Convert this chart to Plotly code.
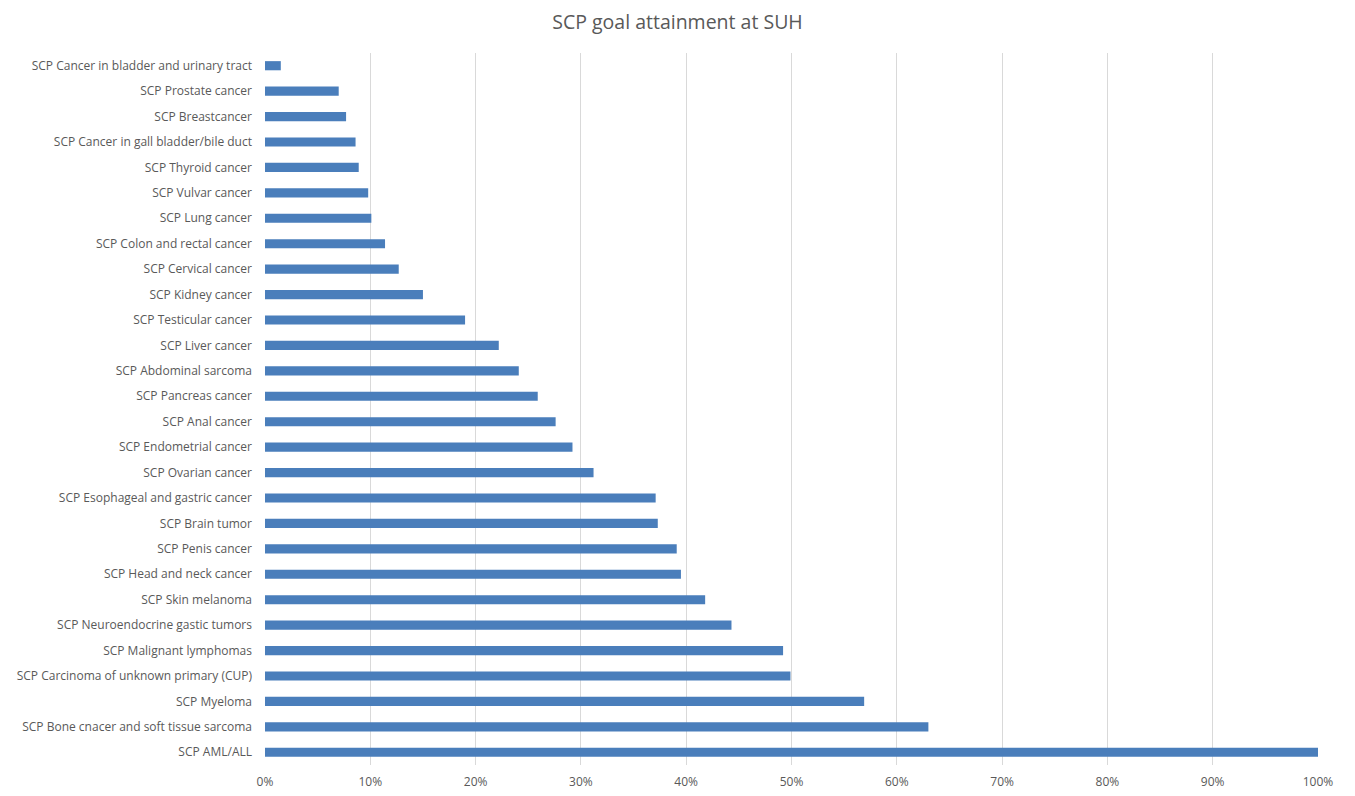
import plotly.graph_objects as go

categories = [
    "SCP Cancer in bladder and urinary tract",
    "SCP Prostate cancer",
    "SCP Breastcancer",
    "SCP Cancer in gall bladder/bile duct",
    "SCP Thyroid cancer",
    "SCP Vulvar cancer",
    "SCP Lung cancer",
    "SCP Colon and rectal cancer",
    "SCP Cervical cancer",
    "SCP Kidney cancer",
    "SCP Testicular cancer",
    "SCP Liver cancer",
    "SCP Abdominal sarcoma",
    "SCP Pancreas cancer",
    "SCP Anal cancer",
    "SCP Endometrial cancer",
    "SCP Ovarian cancer",
    "SCP Esophageal and gastric cancer",
    "SCP Brain tumor",
    "SCP Penis cancer",
    "SCP Head and neck cancer",
    "SCP Skin melanoma",
    "SCP Neuroendocrine gastic tumors",
    "SCP Malignant lymphomas",
    "SCP Carcinoma of unknown primary (CUP)",
    "SCP Myeloma",
    "SCP Bone cnacer and soft tissue sarcoma",
    "SCP AML/ALL",
]

values = [
    0.015, 0.070, 0.077, 0.086, 0.089, 0.098, 0.101, 0.114, 0.127, 0.150,
    0.190, 0.222, 0.241, 0.259, 0.276, 0.292, 0.312, 0.371, 0.373, 0.391,
    0.395, 0.418, 0.443, 0.492, 0.499, 0.569, 0.630, 1.000,
]

tick_vals = [i / 10 for i in range(11)]
tick_text = [f"{i * 10}%" for i in range(11)]

fig = go.Figure(
    go.Bar(
        x=values,
        y=categories,
        orientation="h",
        marker=dict(color="#4a7ebb", line=dict(width=0)),
        width=0.36,
    )
)

fig.update_layout(
    width=1355,
    height=796,
    paper_bgcolor="white",
    plot_bgcolor="white",
    margin=dict(l=265, r=37, t=53, b=31, autoexpand=False),
    title=dict(
        text="SCP goal attainment at SUH",
        x=0.5,
        xanchor="center",
        y=0.972,
        yanchor="middle",
        font=dict(family="Open Sans", size=19.5, color="#595959"),
    ),
    font=dict(family="Open Sans", size=12, color="#595959"),
    showlegend=False,
    xaxis=dict(
        range=[0, 1],
        tickvals=tick_vals,
        ticktext=tick_text,
        showgrid=True,
        gridcolor="#d9d9d9",
        gridwidth=1,
        zeroline=False,
        showline=False,
        ticks="",
        automargin=False,
        ticklabelstandoff=8,
        tickfont=dict(size=12, color="#595959"),
    ),
    yaxis=dict(
        autorange="reversed",
        showgrid=False,
        zeroline=False,
        showline=False,
        ticks="",
        automargin=False,
        ticklabelstandoff=12,
        tickfont=dict(size=12, color="#595959"),
    ),
)

fig.write_html("out.html")
